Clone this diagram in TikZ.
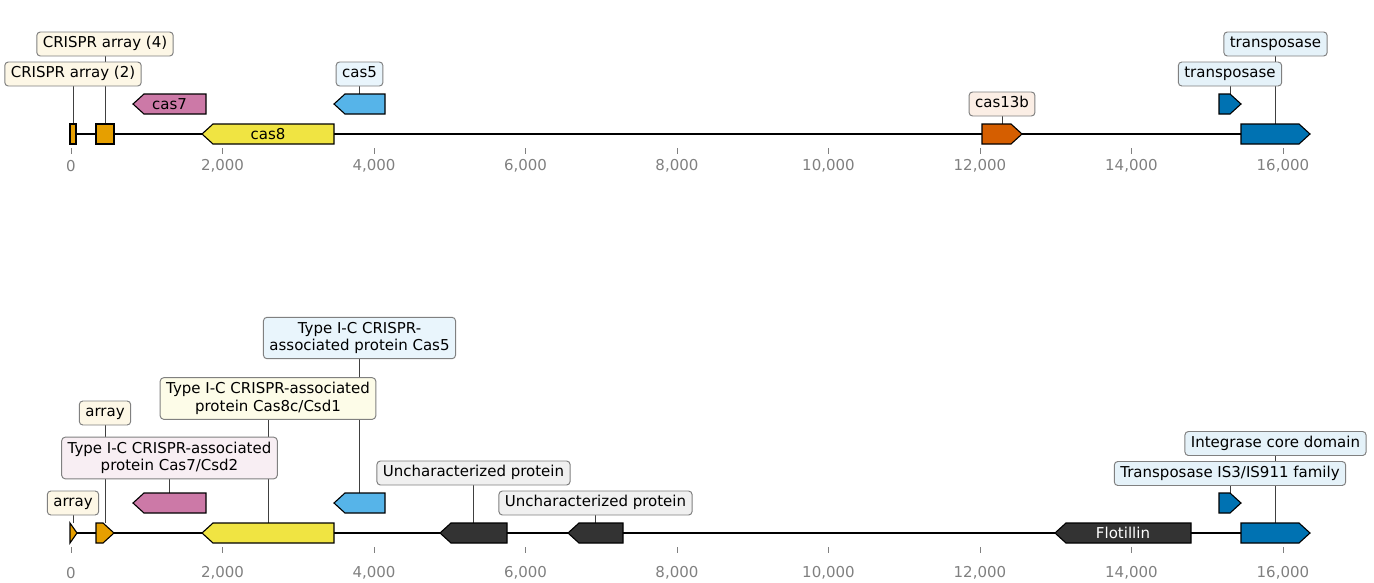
\documentclass[tikz,border=0pt]{standalone}
\usepackage{fontspec}
\setmainfont{DejaVu Sans}
\usetikzlibrary{backgrounds}
\definecolor{corange}{HTML}{E69F00}
\definecolor{cpink}{HTML}{CC79A7}
\definecolor{cyellow}{HTML}{F0E442}
\definecolor{csky}{HTML}{56B4E9}
\definecolor{cverm}{HTML}{D55E00}
\definecolor{cblue}{HTML}{0072B2}
\definecolor{cdark}{HTML}{333333}
\definecolor{lorange}{HTML}{FDF7E6}
\definecolor{lpink}{HTML}{F8EEF3}
\definecolor{lyellow}{HTML}{FDFCE8}
\definecolor{lsky}{HTML}{E9F5FC}
\definecolor{lverm}{HTML}{FBEEE5}
\definecolor{lblue}{HTML}{E5F2F9}
\definecolor{ldark}{HTML}{F0F0F0}
\definecolor{labborder}{HTML}{808080}
\definecolor{tickgray}{HTML}{808080}
\newcommand\geneR[5]{%
  \pgfmathsetmacro\hx{max(#2,#3-11)}%
  \draw[gene,fill=#5] (#2,#4-10) -- (\hx,#4-10) -- (#3,#4) -- (\hx,#4+10) -- (#2,#4+10) -- cycle;
  \coordinate (#1) at ({(#2+#3)/2},#4-10);}
\newcommand\geneL[5]{%
  \pgfmathsetmacro\hx{min(#3,#2+11)}%
  \draw[gene,fill=#5] (#3,#4-10) -- (\hx,#4-10) -- (#2,#4) -- (\hx,#4+10) -- (#3,#4+10) -- cycle;
  \coordinate (#1) at ({(#2+#3)/2},#4-10);}
\newcommand\geneB[5]{%
  \draw[gene,fill=#5] (#2,#4-10) rectangle (#3,#4+10);
  \coordinate (#1) at ({(#2+#3)/2},#4-10);}
\newcommand\fnt{\fontsize{10.8}{12.5}\selectfont}
\begin{document}
\begin{tikzpicture}[x=0.72pt,y=-0.72pt,
  gene/.style={draw=black,line width=0.8pt,line join=miter},
  lab/.style={draw=labborder,rounded corners=2.5pt,line width=0.7pt,inner xsep=4.3pt,inner ysep=3.24pt,text height=8.2pt,text depth=2.6pt,font=\fnt},
  labtwo/.style={draw=labborder,rounded corners=2.5pt,line width=0.7pt,inner xsep=4.3pt,inner ysep=3.5pt,align=center,font=\fnt},
  lead/.style={draw=black!75,line width=0.55pt},
  axline/.style={line width=1.4pt},
  tick/.style={draw=tickgray,line width=0.6pt},
  ticklab/.style={text=tickgray,font=\fnt,inner sep=0pt}]
\useasboundingbox (0,0) rectangle (1374,582);
% ===== top track =====
\draw[axline] (70,134) -- (1310,134);
\foreach \v/\t in {0/0,2000/{2,000},4000/{4,000},6000/{6,000},8000/{8,000},10000/{10,000},12000/{12,000},14000/{14,000},16000/{16,000}}{
  \draw[tick] ({71+0.07575*\v},148) -- ({71+0.07575*\v},154);
  \node[ticklab] at ({71+0.07575*\v},166) {\t};
}
\geneB{a1}{70}{76}{134}{corange}
\geneB{a2}{96}{114}{134}{corange}
\geneL{c7}{133}{206}{104}{cpink}
\geneL{c8}{202}{334}{134}{cyellow}
\geneL{c5}{334}{385}{104}{csky}
\geneR{c13}{982}{1022}{134}{cverm}
\geneR{t1}{1219}{1241}{104}{cblue}
\geneR{t2}{1241}{1310}{134}{cblue}
\node[font=\fnt] (c7txt) at (169.5,104) {cas7};
\node[font=\fnt] (c8txt) at (268,134) {cas8};
\node[lab,fill=lorange] (la2) at (73,74) {CRISPR array (2)};
\node[lab,fill=lorange] (la4) at (105,44) {CRISPR array (4)};
\node[lab,fill=lsky] (lc5) at (359.5,74) {cas5};
\node[lab,fill=lverm] (lc13) at (1002,104) {cas13b};
\node[lab,fill=lblue] (lt1) at (1230,74) {transposase};
\node[lab,fill=lblue] (lt2) at (1275.5,44) {transposase};
% ===== bottom track =====
\draw[axline] (70,533) -- (1310,533);
\foreach \v/\t in {0/0,2000/{2,000},4000/{4,000},6000/{6,000},8000/{8,000},10000/{10,000},12000/{12,000},14000/{14,000},16000/{16,000}}{
  \draw[tick] ({71+0.07575*\v},547) -- ({71+0.07575*\v},553);
  \node[ticklab] at ({71+0.07575*\v},573) {\t};
}
\geneR{b1}{70}{77}{533}{corange}
\geneR{b2}{96}{114}{533}{corange}
\geneL{b7}{133}{206}{503}{cpink}
\geneL{b8}{202}{334}{533}{cyellow}
\geneL{b5}{334}{385}{503}{csky}
\geneL{u1}{440}{507}{533}{cdark}
\geneL{u2}{568}{623}{533}{cdark}
\geneL{fl}{1055}{1191}{533}{cdark}
\geneR{bt1}{1219}{1241}{503}{cblue}
\geneR{bt2}{1241}{1310}{533}{cblue}
\node[text=white,font=\fnt] (fltxt) at (1123,533) {Flotillin};
\node[lab,fill=lorange] (lb1) at (73,503) {array};
\node[lab,fill=lorange] (lb2) at (105,413) {array};
\node[labtwo,fill=lpink] (lb7) at (169.5,458) {Type I-C CRISPR-associated\\protein Cas7/Csd2};
\node[labtwo,fill=lyellow] (lb8) at (268,398.5) {Type I-C CRISPR-associated\\protein Cas8c/Csd1};
\node[labtwo,fill=lsky] (lb5) at (359.5,338) {Type I-C CRISPR-\\associated protein Cas5};
\node[lab,fill=ldark] (lu1) at (473.5,473) {Uncharacterized protein};
\node[lab,fill=ldark] (lu2) at (595.5,503) {Uncharacterized protein};
\node[lab,fill=lblue] (lbt1) at (1230,473.5) {Transposase IS3/IS911 family};
\node[lab,fill=lblue] (lbt2) at (1275.5,443.5) {Integrase core domain};
% leader lines, behind the label boxes
\begin{scope}[on background layer]
\foreach \g/\l in {a1/la2,a2/la4,c5/lc5,c13/lc13,t1/lt1,t2/lt2,b1/lb1,b2/lb2,b7/lb7,b8/lb8,b5/lb5,u1/lu1,u2/lu2,bt1/lbt1,bt2/lbt2}{
  \draw[lead] (\g) -- (\g |- \l.south);
}
\end{scope}
\end{tikzpicture}
\end{document}
